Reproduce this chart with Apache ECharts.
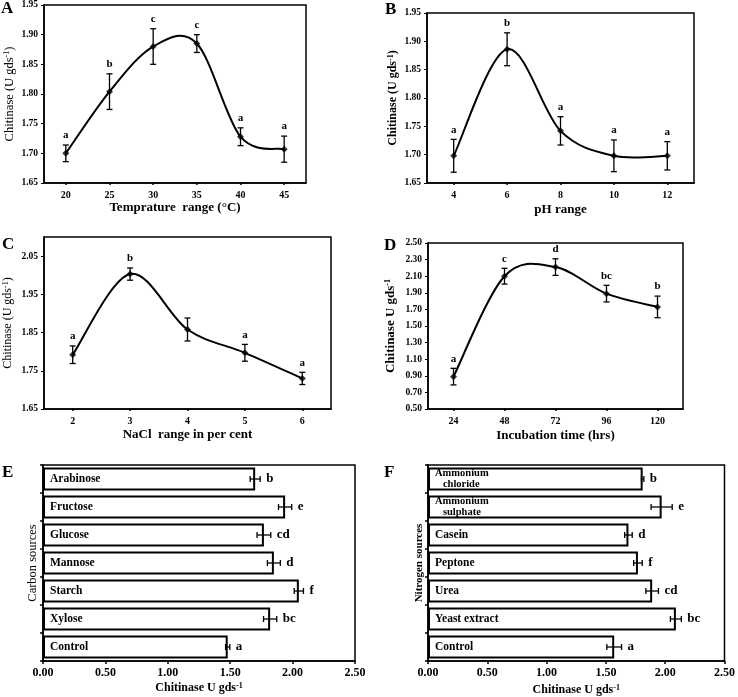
<!DOCTYPE html>
<html><head><meta charset="utf-8">
<script src="https://cdn.jsdelivr.net/npm/echarts@6/dist/echarts.min.js"></script>
<style>html,body{margin:0;padding:0;background:#fff}#c{width:738px;height:697px}</style>
</head><body><div id="c"></div>
<script>
// Panel A: temperature
const tempCats = ['20','25','30','35','40','45'];
const tempVals = [1.700, 1.804, 1.880, 1.885, 1.728, 1.707];
const tempErr = [0.014, 0.030, 0.030, 0.015, 0.015, 0.022];
const tempLetters = ['a','b','c','c','a','a'];
// Panel B: pH
const phCats = ['4','6','8','10','12'];
const phVals = [1.698, 1.886, 1.742, 1.698, 1.698];
const phErr = [0.029, 0.029, 0.025, 0.028, 0.025];
const phLetters = ['a','b','a','a','a'];
// Panel C: NaCl
const naclCats = ['2','3','4','5','6'];
const naclVals = [1.792, 2.003, 1.858, 1.797, 1.730];
const naclErr = [0.023, 0.016, 0.030, 0.022, 0.016];
const naclLetters = ['a','b','','a','a'];
// Panel D: incubation time
const timeCats = ['24','48','72','96','120'];
const timeVals = [0.89, 2.10, 2.21, 1.89, 1.73];
const timeErr = [0.10, 0.095, 0.10, 0.10, 0.13];
const timeLetters = ['a','c','d','bc','b'];
// Panel E: carbon sources
const carbonCats = ['Arabinose','Fructose','Glucose','Mannose','Starch','Xylose','Control'];
const carbonVals = [1.70, 1.94, 1.77, 1.85, 2.05, 1.82, 1.48];
const carbonErr = [0.040, 0.053, 0.055, 0.052, 0.037, 0.053, 0.017];
const carbonLetters = ['b','e','cd','d','f','bc','a'];
// Panel F: nitrogen sources
const nitroCats = ['Ammonium\n   chloride','Ammonium\n   sulphate','Casein','Peptone','Urea','Yeast extract','Control'];
const nitroVals = [1.81, 1.97, 1.69, 1.77, 1.89, 2.09, 1.57];
const nitroErr = [0.010, 0.089, 0.032, 0.036, 0.053, 0.046, 0.062];
const nitroLetters = ['b','e','d','f','cd','bc','a'];

const SERIF = '"Liberation Serif","Times New Roman",serif';
const BLK = '#000';

function richName(bold, size){
  const w = bold ? 'bold' : 'normal';
  return {rich:{
    n:{fontFamily:SERIF,fontWeight:w,fontSize:size,color:BLK},
    s:{fontFamily:SERIF,fontWeight:w,fontSize:Math.round(size*0.65),color:BLK,verticalAlign:'top'}
  }};
}

function catX(gi, cats, name, gap){
  return {type:'category', gridIndex:gi, data:cats, boundaryGap:true,
    name:name, nameLocation:'middle', nameGap:gap,
    nameTextStyle:{fontFamily:SERIF,fontWeight:'bold',fontSize:13,color:BLK},
    axisLine:{lineStyle:{color:BLK,width:1.5}},
    axisTick:{show:true,alignWithLabel:true,length:2,lineStyle:{color:BLK,width:1.5}},
    axisLabel:{fontFamily:SERIF,fontWeight:'bold',fontSize:10,color:BLK,margin:7},
    splitLine:{show:false}};
}
function valY(gi, min, max, interval, name, nameStyle, gap, hideMax){
  return {type:'value', gridIndex:gi, min:min, max:max, interval:interval,
    name:name, nameLocation:'middle', nameGap:gap, nameTextStyle:nameStyle,
    axisLine:{show:true,lineStyle:{color:BLK,width:1.5}},
    axisTick:{show:true,length:3,lineStyle:{color:BLK,width:1}},
    axisLabel:{fontFamily:SERIF,fontWeight:'bold',fontSize:9.5,color:BLK,margin:6,
      showMaxLabel: hideMax ? false : null,
      formatter:v=>v.toFixed(2)},
    splitLine:{show:false}};
}
// Excel-like smooth curve (Catmull-Rom) through the data points, positioned via api.coord
function curveSeries(gi, vals){
  return {type:'custom', xAxisIndex:gi, yAxisIndex:gi, z:3, silent:true,
    data: vals.slice(0, -1).map((v,i)=>[i, v]),
    renderItem:(p,api)=>{
      const i = p.dataIndex, n = vals.length;
      const P = j => api.coord([Math.max(0, Math.min(n-1, j)), vals[Math.max(0, Math.min(n-1, j))]]);
      const p0 = P(i-1), p1 = P(i), p2 = P(i+1), p3 = P(i+2);
      const t = 1/6;
      return {type:'bezierCurve', shape:{
          x1:p1[0], y1:p1[1], x2:p2[0], y2:p2[1],
          cpx1:p1[0]+(p2[0]-p0[0])*t, cpy1:p1[1]+(p2[1]-p0[1])*t,
          cpx2:p2[0]-(p3[0]-p1[0])*t, cpy2:p2[1]-(p3[1]-p1[1])*t},
        style:{stroke:BLK, lineWidth:2, fill:null}};
    }};
}
function pointSeries(gi, vals){
  return {type:'scatter', xAxisIndex:gi, yAxisIndex:gi, data:vals,
    symbol:'diamond', symbolSize:7, itemStyle:{color:BLK}, z:5, silent:true};
}
function vErr(gi, vals, errs, letters){
  return {type:'custom', xAxisIndex:gi, yAxisIndex:gi, z:4, silent:true,
    data: vals.map((v,i)=>[i, v-errs[i], v+errs[i]]),
    renderItem:(p,api)=>{
      const lo = api.coord([api.value(0), api.value(1)]);
      const hi = api.coord([api.value(0), api.value(2)]);
      const w = 3, st = {stroke:BLK, lineWidth:1.3};
      return {type:'group', children:[
        {type:'line', shape:{x1:lo[0],y1:lo[1],x2:hi[0],y2:hi[1]}, style:st},
        {type:'line', shape:{x1:lo[0]-w,y1:lo[1],x2:lo[0]+w,y2:lo[1]}, style:st},
        {type:'line', shape:{x1:hi[0]-w,y1:hi[1],x2:hi[0]+w,y2:hi[1]}, style:st},
        {type:'text', style:{text:letters[p.dataIndex], x:hi[0], y:hi[1]-4,
          align:'center', verticalAlign:'bottom', font:'bold 11px '+SERIF, fill:BLK}}
      ]};
    }};
}
function valX(gi, name, gap, lblSize){
  return {type:'value', gridIndex:gi, min:0, max:2.5, interval:0.5,
    name:name, nameLocation:'middle', nameGap:gap, nameTextStyle:richName(true, 12),
    axisLine:{show:true,lineStyle:{color:BLK,width:1.5}},
    axisTick:{show:true,length:3,lineStyle:{color:BLK,width:1.5}},
    axisLabel:{fontFamily:SERIF,fontWeight:'bold',fontSize:lblSize,color:BLK,margin:6,formatter:v=>v.toFixed(2)},
    splitLine:{show:false}};
}
function catY(gi, cats, name, nameStyle, gap){
  return {type:'category', gridIndex:gi, data:cats, inverse:true,
    name:name, nameLocation:'middle', nameGap:gap, nameTextStyle:nameStyle,
    axisLine:{show:true,lineStyle:{color:BLK,width:1.5}},
    axisTick:{show:true,length:3,lineStyle:{color:BLK,width:1.5}},
    axisLabel:{show:false}, splitLine:{show:false}};
}
function barSeries(gi, vals){
  return {type:'bar', xAxisIndex:gi, yAxisIndex:gi, data:vals, barCategoryGap:'17%', silent:true,
    itemStyle:{color:'#fff', borderColor:BLK, borderWidth:2},
    label:{show:true, position:'insideLeft', distance:7, color:BLK,
      formatter:p => p.name.indexOf('\n') >= 0 ? p.name.split('\n').map(s=>'{m|'+s+'}').join('\n') : p.name,
      fontFamily:SERIF, fontWeight:'bold', fontSize:11.5, align:'left',
      rich:{m:{fontFamily:SERIF, fontWeight:'bold', fontSize:10.5, lineHeight:10.5, color:BLK}}}, z:2};
}
function hErr(gi, vals, errs, letters){
  return {type:'custom', xAxisIndex:gi, yAxisIndex:gi, z:4, silent:true,
    data: vals.map((v,i)=>[v-errs[i], v+errs[i], i]),
    renderItem:(p,api)=>{
      const lo = api.coord([api.value(0), api.value(2)]);
      const hi = api.coord([api.value(1), api.value(2)]);
      const h = 3, st = {stroke:BLK, lineWidth:1.3};
      return {type:'group', children:[
        {type:'line', shape:{x1:lo[0],y1:lo[1],x2:hi[0],y2:hi[1]}, style:st},
        {type:'line', shape:{x1:lo[0],y1:lo[1]-h,x2:lo[0],y2:lo[1]+h}, style:st},
        {type:'line', shape:{x1:hi[0],y1:hi[1]-h,x2:hi[0],y2:hi[1]+h}, style:st},
        {type:'text', style:{text:letters[p.dataIndex], x:hi[0]+6, y:hi[1],
          align:'left', verticalAlign:'middle', font:'bold 13px '+SERIF, fill:BLK}}
      ]};
    }};
}

const gridBase = {show:true, borderColor:BLK, borderWidth:1.5, backgroundColor:'#fff'};
const chitName = '{n|Chitinase (U gds}{s|-1}{n|)}';
const chitName2 = '{n|Chitinase U gds}{s|-1}';

const option = {
  backgroundColor:'#fff',
  animation:false,
  grid:[
    Object.assign({left:44, top:5, width:262, height:178}, gridBase),
    Object.assign({left:427, top:13, width:267, height:170}, gridBase),
    Object.assign({left:44, top:237, width:287, height:172}, gridBase),
    Object.assign({left:428, top:243, width:255, height:166}, gridBase),
    Object.assign({left:43, top:465, width:312, height:196}, gridBase),
    Object.assign({left:428, top:465, width:301, height:196}, gridBase)
  ],
  xAxis:[
    catX(0, tempCats, 'Temprature  range (°C)', 18),
    catX(1, phCats, 'pH range', 20),
    catX(2, naclCats, 'NaCl  range in per cent', 19),
    catX(3, timeCats, 'Incubation time (hrs)', 20),
    valX(4, chitName2, 21, 12),
    valX(5, chitName2, 23, 12)
  ],
  yAxis:[
    valY(0, 1.65, 1.95, 0.05, chitName, richName(false, 12.5), 28, false),
    valY(1, 1.65, 1.95, 0.05, chitName, richName(true, 12), 28, false),
    valY(2, 1.65, 2.10, 0.10, chitName, richName(false, 12), 30, true),
    valY(3, 0.50, 2.50, 0.20, chitName2, richName(true, 13), 31, false),
    catY(4, carbonCats, 'Carbon sources', {fontFamily:SERIF,fontSize:12.5,color:BLK}, 4),
    catY(5, nitroCats, 'Nitrogen sources', {fontFamily:SERIF,fontWeight:'bold',fontSize:11,color:BLK}, 3)
  ],
  series:[
    curveSeries(0, tempVals), pointSeries(0, tempVals), vErr(0, tempVals, tempErr, tempLetters),
    curveSeries(1, phVals), pointSeries(1, phVals), vErr(1, phVals, phErr, phLetters),
    curveSeries(2, naclVals), pointSeries(2, naclVals), vErr(2, naclVals, naclErr, naclLetters),
    curveSeries(3, timeVals), pointSeries(3, timeVals), vErr(3, timeVals, timeErr, timeLetters),
    barSeries(4, carbonVals), hErr(4, carbonVals, carbonErr, carbonLetters),
    barSeries(5, nitroVals), hErr(5, nitroVals, nitroErr, nitroLetters)
  ],
  graphic:[
    {type:'text', left:1, top:0, style:{text:'A', font:'bold 17px '+SERIF, fill:BLK}},
    {type:'text', left:385, top:1, style:{text:'B', font:'bold 17px '+SERIF, fill:BLK}},
    {type:'text', left:2, top:236, style:{text:'C', font:'bold 17px '+SERIF, fill:BLK}},
    {type:'text', left:384, top:237, style:{text:'D', font:'bold 17px '+SERIF, fill:BLK}},
    {type:'text', left:2, top:464, style:{text:'E', font:'bold 17px '+SERIF, fill:BLK}},
    {type:'text', left:384, top:464, style:{text:'F', font:'bold 17px '+SERIF, fill:BLK}}
  ]
};
const chart = echarts.init(document.getElementById('c'), null, {renderer:'canvas'});
chart.setOption(option);
</script>
</body></html>
